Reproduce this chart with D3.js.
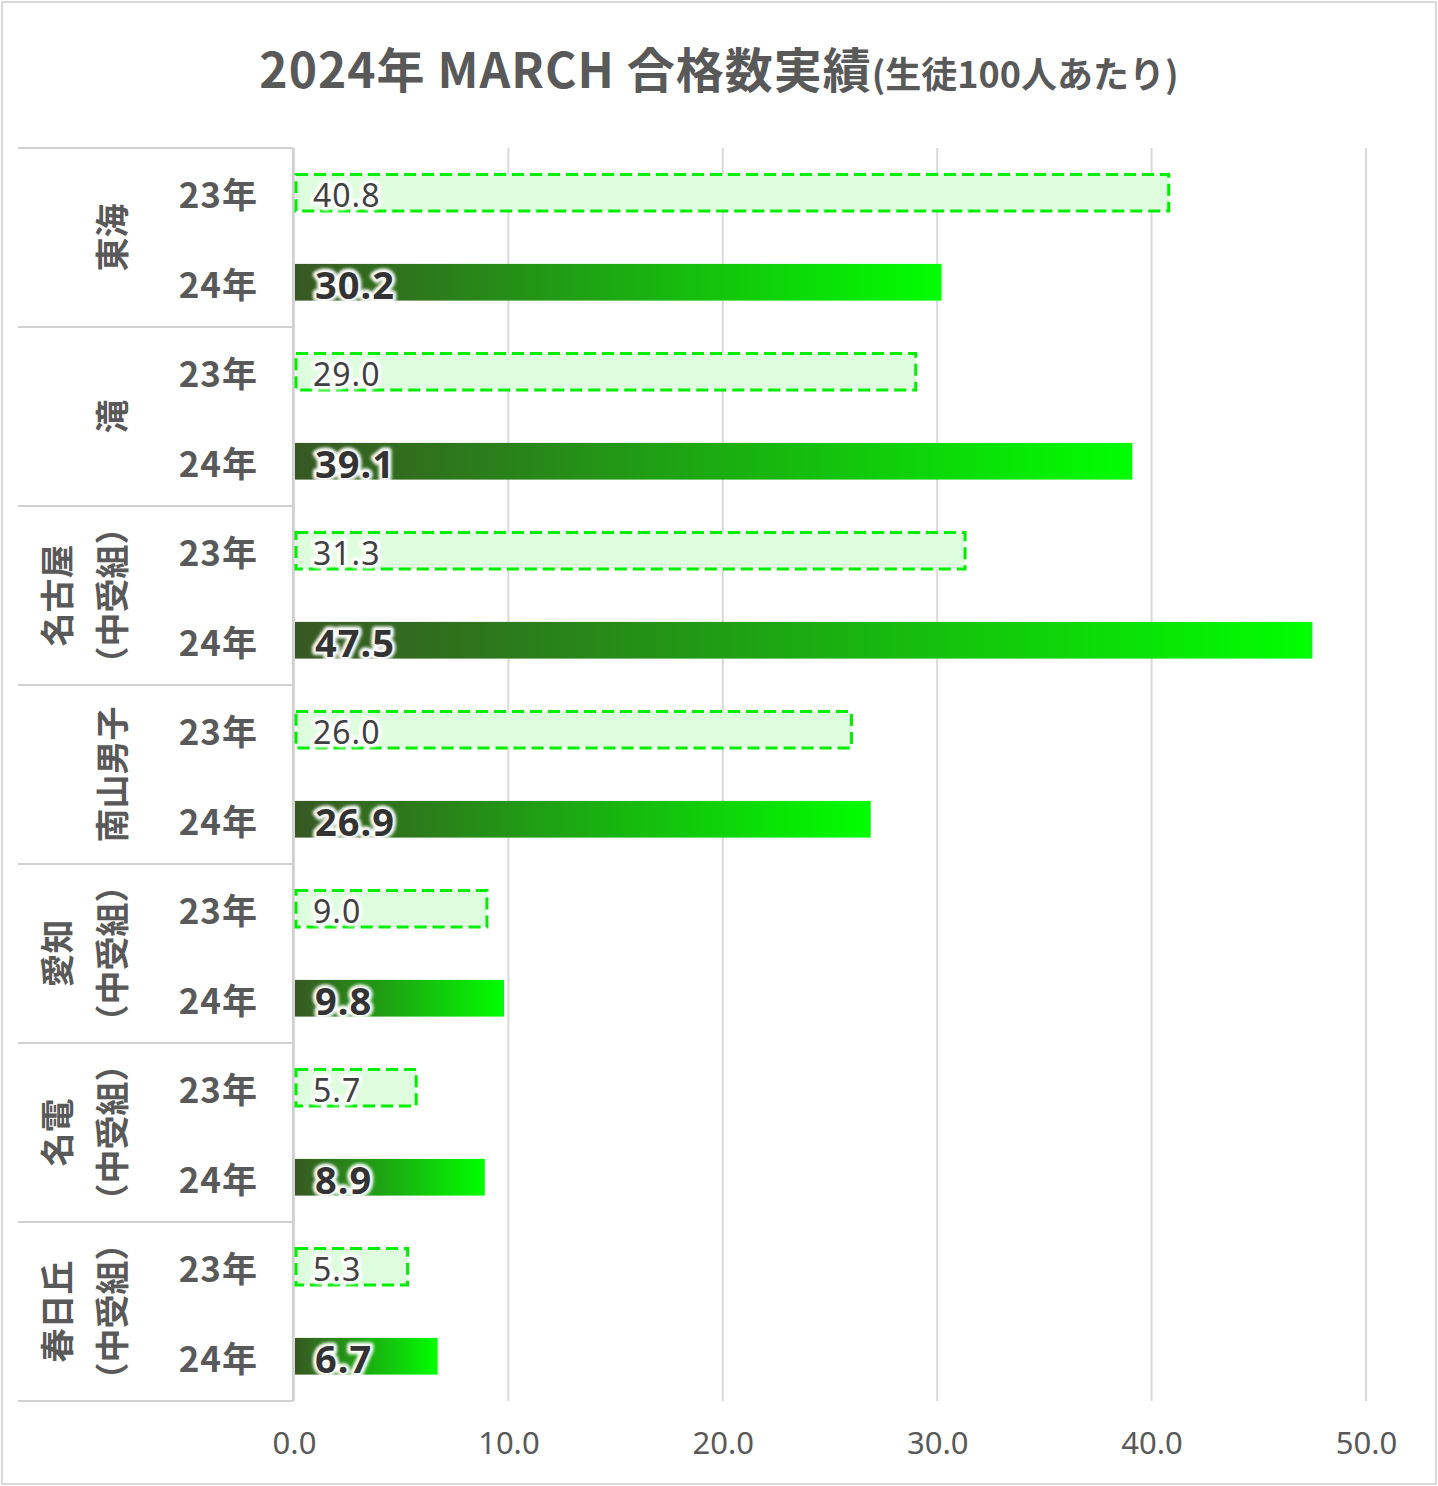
<!DOCTYPE html>
<html>
<head>
  <meta charset="UTF-8">
  <title>2024年 MARCH 合格数実績</title>
  <style>
    body { margin: 0; background: #fff; }
    svg { font-family: "Noto Sans CJK JP", "Noto Sans", sans-serif; }
    .grid line { stroke: #d9d9d9; stroke-width: 2; }
    .tick text { fill: #595959; }
  </style>
</head>
<body>
<svg id="chart"></svg>
<script src="https://d3js.org/d3.v7.min.js"></script>
<script>

// data
var schools = ["東海", "滝", "名古屋\n（中受組）", "南山男子", "愛知\n（中受組）", "名電\n（中受組）", "春日丘\n（中受組）"];
var years = ["23年", "24年"];
var values23 = [40.8, 29.0, 31.3, 26.0, 9.0, 5.7, 5.3];
var values24 = [30.2, 39.1, 47.5, 26.9, 9.8, 8.9, 6.7];
var xTicks = [0, 10, 20, 30, 40, 50];

let width = 1438, height = 1486;
let plotLeft = 294, plotRight = 1366, plotTop = 148, plotBottom = 1401;

let svg = d3.select("#chart")
    .attr("width", width)
    .attr("height", height);

// gradient + glow
let defs = svg.append("defs");
let grad = defs.append("linearGradient")
    .attr("id", "barGrad")
    .attr("x1", "0%").attr("x2", "100%")
    .attr("y1", "0%").attr("y2", "0%");
grad.append("stop").attr("offset", "0%").attr("stop-color", "#385723");
grad.append("stop").attr("offset", "100%").attr("stop-color", "#00ff00");

let glow = defs.append("filter").attr("id", "glow")
    .attr("x", "-20%").attr("y", "-30%").attr("width", "140%").attr("height", "160%");
glow.append("feGaussianBlur").attr("stdDeviation", 1.5);

// outer frame
svg.append("rect")
    .attr("x", 2).attr("y", 2)
    .attr("width", width - 4).attr("height", height - 4)
    .attr("fill", "#fff")
    .attr("stroke", "#d9d9d9")
    .attr("stroke-width", 2);

// title
let title = svg.append("text")
    .attr("x", 719).attr("y", 88)
    .attr("text-anchor", "middle")
    .attr("fill", "#595959")
    .attr("font-weight", "bold");
title.append("tspan").attr("font-size", 48).attr("letter-spacing", 1).text("2024年 MARCH  合格数実績");
title.append("tspan").attr("font-size", 36).text("(生徒100人あたり)");

// scales
var x = d3.scaleLinear().domain([0, 50]).range([plotLeft, plotRight]);
var yGroup = d3.scaleBand().domain(schools).range([plotTop, plotBottom]);
var yYear = d3.scaleBand().domain(years).range([0, yGroup.bandwidth()]);
var barH = yYear.bandwidth() * 0.41;

// gridlines
svg.append("g")
    .attr("class", "grid")
    .selectAll("line")
    .data(xTicks)
    .enter()
    .append("line")
    .attr("x1", d => x(d)).attr("x2", d => x(d))
    .attr("y1", plotTop).attr("y2", plotBottom);

// x axis labels
let xAxis = svg.append("g")
    .attr("transform", "translate(0," + (plotBottom + 28) + ")")
    .call(d3.axisBottom(x).tickValues(xTicks).tickFormat(d3.format(".1f")).tickSize(0));
xAxis.select(".domain").remove();
xAxis.selectAll("text")
    .attr("font-size", 31)
    .attr("font-family", "'Noto Sans', sans-serif");

// category axis: separators
svg.append("g")
    .selectAll("line")
    .data(d3.range(schools.length + 1))
    .enter()
    .append("line")
    .attr("x1", 18).attr("x2", plotLeft - 1)
    .attr("y1", i => plotTop + i * yGroup.bandwidth())
    .attr("y2", i => plotTop + i * yGroup.bandwidth())
    .attr("stroke", "#d0d0d0")
    .attr("stroke-width", 2);

svg.append("line")
    .attr("x1", plotLeft - 1).attr("x2", plotLeft - 1)
    .attr("y1", plotTop).attr("y2", plotBottom)
    .attr("stroke", "#d0d0d0")
    .attr("stroke-width", 2);

let groups = svg.append("g")
    .selectAll("g")
    .data(schools.map((s, i) => ({ name: s, v23: values23[i], v24: values24[i] })))
    .enter()
    .append("g")
    .attr("transform", d => "translate(0," + yGroup(d.name) + ")");

// school names, rotated
groups.each(function (d) {
    let lines = d.name.split("\n");
    let cy = yGroup.bandwidth() / 2;
    lines.forEach((line, k) => {
        let lx = lines.length == 1 ? 110 : (k == 0 ? 55 : 110);
        d3.select(this).append("text")
            .attr("transform", "translate(" + lx + "," + cy + ") rotate(-90)")
            .attr("text-anchor", "middle")
            .attr("dominant-baseline", "central")
            .attr("font-size", 34)
            .attr("font-weight", "bold")
            .attr("fill", "#595959")
            .text(line);
    });
});

// year labels
groups.selectAll(".year")
    .data(years)
    .enter()
    .append("text")
    .attr("class", "year")
    .attr("x", 258)
    .attr("y", d => yYear(d) + yYear.bandwidth() / 2)
    .attr("text-anchor", "end")
    .attr("dominant-baseline", "central")
    .attr("font-size", 35)
    .attr("font-weight", "bold")
    .attr("letter-spacing", 1)
    .attr("fill", "#595959")
    .text(d => d);

// 23年 bars (dashed, pale)
groups.append("rect")
    .attr("x", x(0) + 2)
    .attr("y", yYear("23年") + (yYear.bandwidth() - barH) / 2)
    .attr("width", d => x(d.v23) - x(0) - 2)
    .attr("height", barH)
    .attr("fill", "#defcde")
    .attr("stroke", "#00ee00")
    .attr("stroke-width", 3)
    .attr("stroke-dasharray", "12,6");

// 24年 bars (gradient)
groups.append("rect")
    .attr("x", x(0) + 1)
    .attr("y", yYear("24年") + (yYear.bandwidth() - barH) / 2)
    .attr("width", d => x(d.v24) - x(0) - 1)
    .attr("height", barH)
    .attr("fill", "url(#barGrad)");

// value labels
function addLabel(sel, key, yr, size, weight, color, x0) {
    let cy = yYear(yr) + yYear.bandwidth() / 2 + 2;
    sel.append("text")
        .attr("x", x0).attr("y", cy)
        .attr("dominant-baseline", "central")
        .attr("font-family", "'Noto Sans', sans-serif")
        .attr("font-size", size).attr("font-weight", weight)
        .attr("letter-spacing", 1)
        .attr("fill", "#fff").attr("stroke", "#fff")
        .attr("stroke-width", 7).attr("stroke-linejoin", "round")
        .attr("filter", "url(#glow)")
        .text(d => d[key].toFixed(1));
    sel.append("text")
        .attr("x", x0).attr("y", cy)
        .attr("dominant-baseline", "central")
        .attr("font-family", "'Noto Sans', sans-serif")
        .attr("font-size", size).attr("font-weight", weight)
        .attr("letter-spacing", 1)
        .attr("fill", color)
        .text(d => d[key].toFixed(1));
}
addLabel(groups, "v23", "23年", 32, "normal", "#404040", 313);
addLabel(groups, "v24", "24年", 38, "bold", "#333333", 315);

</script>
</body>
</html>
